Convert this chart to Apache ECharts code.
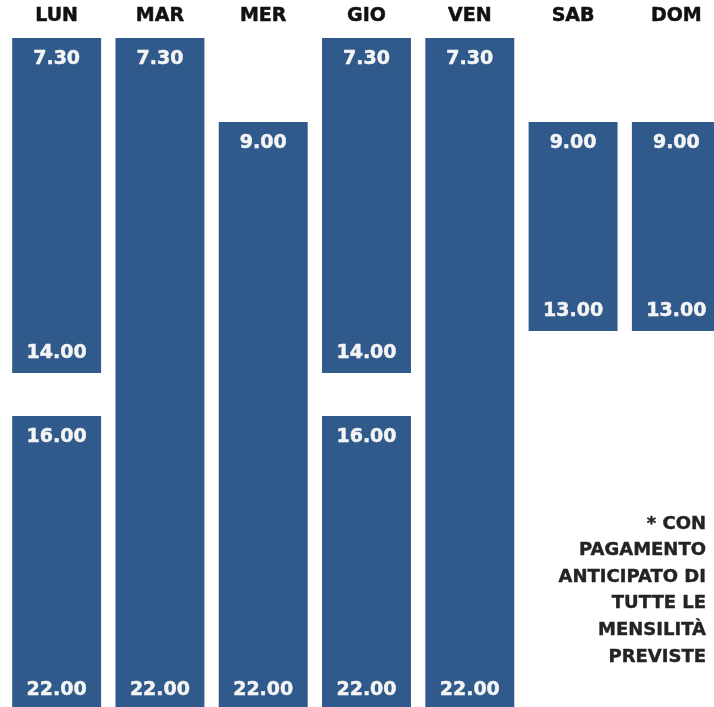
<!DOCTYPE html>
<html>
<head>
<meta charset="utf-8">
<script src="https://cdn.jsdelivr.net/npm/echarts@6/dist/echarts.min.js"></script>
<style>
html,body{margin:0;padding:0;background:#fff;}
#c{width:714px;height:707px;}
</style>
</head>
<body>
<div id="c"></div>
<script>
// ---- data ----
const days = ['LUN', 'MAR', 'MER', 'GIO', 'VEN', 'SAB', 'DOM'];
const slotDay = ['LUN', 'LUN', 'MAR', 'MER', 'GIO', 'GIO', 'VEN', 'SAB', 'DOM'];
const slotOpen = [7.5, 16, 7.5, 9, 7.5, 16, 7.5, 9, 9];
const slotClose = [14, 22, 22, 22, 14, 22, 22, 13, 13];
const footnote = ['* CON', 'PAGAMENTO', 'ANTICIPATO DI', 'TUTTE LE', 'MENSILITÀ', 'PREVISTE'];

// ---- nonlinear (infographic) time scale: hour -> axis unit ----
const scaleHours = [7.5, 9, 13, 14, 16, 22];
const scaleUnits = [0, 84, 293, 335, 378, 672];
function toUnit(h) {
  for (let i = 0; i < scaleHours.length - 1; i++) {
    if (h <= scaleHours[i + 1]) {
      const t = (h - scaleHours[i]) / (scaleHours[i + 1] - scaleHours[i]);
      return scaleUnits[i] + t * (scaleUnits[i + 1] - scaleUnits[i]);
    }
  }
  return scaleUnits[scaleUnits.length - 1];
}
function fmt(h) {
  const hh = Math.floor(h);
  const mm = Math.round((h - hh) * 60);
  return hh + '.' + String(mm).padStart(2, '0');
}

const seriesData = slotDay.map((d, i) => [days.indexOf(d), toUnit(slotOpen[i]), toUnit(slotClose[i]), slotOpen[i], slotClose[i]]);

const BAR = '#2f5a8b';
const FAMILY = 'DejaVu Sans';

const footGraphics = footnote.map((line, i) => ({
  type: 'text',
  x: 706,
  y: 524 + i * 26.6,
  style: {
    text: line,
    fill: '#232323',
    stroke: '#232323',
    lineWidth: 0.4,
    fontFamily: FAMILY,
    fontWeight: 'bold',
    fontSize: 18,
    align: 'right',
    verticalAlign: 'middle'
  }
}));

const chart = echarts.init(document.getElementById('c'), null, {renderer: 'canvas'});
chart.setOption({
  animation: false,
  backgroundColor: '#ffffff',
  grid: {left: 5, top: 38, width: 723, height: 672, containLabel: false, outerBoundsMode: 'none'},
  xAxis: {
    type: 'category',
    data: days,
    position: 'top',
    axisLine: {show: false},
    axisTick: {show: false},
    splitLine: {show: false},
    axisLabel: {
      margin: 12,
      color: '#111111',
      fontFamily: FAMILY,
      fontWeight: 'bold',
      fontSize: 19,
      textBorderColor: '#111111',
      textBorderWidth: 0.5
    }
  },
  yAxis: {
    type: 'value',
    inverse: true,
    min: 0,
    max: 672,
    show: false
  },
  series: [{
    type: 'custom',
    clip: false,
    data: seriesData,
    renderItem: function (params, api) {
      const x = api.value(0);
      const p0 = api.coord([x, api.value(1)]);
      const p1 = api.coord([x, api.value(2)]);
      const w = api.size([1, 0])[0] * 0.861;
      const left = p0[0] - w / 2;
      const txt = (t, y) => ({
        type: 'text',
        style: {
          text: t, x: p0[0], y: y,
          fill: '#f4f4f4', stroke: '#f4f4f4', lineWidth: 0.5,
          fontFamily: FAMILY, fontWeight: 'bold', fontSize: 19,
          align: 'center', verticalAlign: 'middle'
        }
      });
      return {
        type: 'group',
        children: [
          {
            type: 'rect',
            shape: {x: left, y: p0[1], width: w, height: p1[1] - p0[1]},
            style: {fill: BAR}
          },
          txt(fmt(api.value(3)), p0[1] + 21),
          txt(fmt(api.value(4)), p1[1] - 20)
        ]
      };
    }
  }],
  graphic: footGraphics
});
</script>
</body>
</html>
